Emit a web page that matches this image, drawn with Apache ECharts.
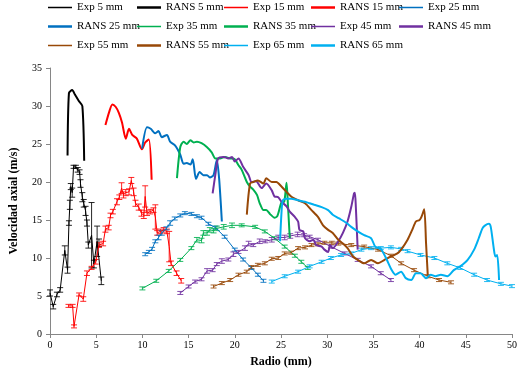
<!DOCTYPE html>
<html>
<head>
<meta charset="utf-8">
<script src="https://cdn.jsdelivr.net/npm/echarts@6/dist/echarts.min.js"></script>
<style>
  html, body { margin: 0; padding: 0; background: #fff; }
  #chart { width: 523px; height: 374px; }
</style>
</head>
<body>
<div id="chart"></div>
<script>
// measured points [radio mm, velocidad m/s, error bar half-height]
const exp5 = [
  [0.0, 5.4, 0.4], [0.35, 3.6, 0.3], [0.75, 5.2, 0.3], [1.1, 5.8, 0.3], [1.6, 11.0, 0.6],
  [1.9, 8.4, 0.4], [2.05, 14.6, 0.3], [2.15, 17.0, 0.6], [2.25, 19.4, 0.4], [2.4, 18.6, 0.6],
  [2.55, 22.0, 0.2], [2.8, 22.0, 0.2], [3.0, 21.6, 0.3], [3.2, 21.3, 0.3], [3.3, 19.8, 0.5],
  [3.5, 18.0, 0.6], [3.65, 17.2, 0.5], [3.85, 16.2, 0.6], [4.0, 14.6, 0.4], [4.15, 11.7, 0.4],
  [4.5, 13.0, 4.3], [4.75, 9.2, 0.5], [5.1, 12.2, 2.0], [5.3, 12.0, 0.5], [5.55, 7.0, 0.5]
];
const exp15 = [
  [2.0, 3.7, 0.2], [2.45, 3.7, 0.2], [2.6, 1.0, 0.2], [3.15, 5.2, 0.2], [3.6, 4.6, 0.3],
  [4.0, 8.0, 0.3], [4.5, 8.7, 0.2], [4.95, 9.5, 0.3], [5.3, 11.7, 0.3], [5.75, 11.9, 0.3],
  [6.0, 13.8, 0.4], [6.35, 14.0, 0.3], [6.55, 15.6, 0.3], [6.8, 16.1, 0.3], [7.25, 17.4, 0.4],
  [7.5, 18.0, 0.3], [7.75, 19.2, 0.7], [7.95, 18.3, 0.4], [8.2, 18.6, 0.4], [8.55, 18.7, 0.4],
  [8.8, 20.2, 0.4], [9.05, 18.7, 0.5], [9.25, 17.2, 0.4], [9.6, 16.7, 0.4], [9.9, 15.9, 0.4],
  [10.15, 15.6, 0.4], [10.3, 18.1, 1.4], [10.5, 15.9, 0.3], [10.85, 16.1, 0.3], [11.2, 16.3, 0.3],
  [11.4, 15.4, 1.6], [11.6, 13.3, 0.3], [11.95, 13.5, 0.3], [12.3, 13.7, 0.3], [12.65, 13.5, 0.3],
  [12.9, 11.5, 2.0], [13.1, 9.3, 0.3], [13.7, 8.0, 0.3], [14.2, 7.0, 0.3]
];
const exp25 = [
  [10.3, 10.5, 0.2], [10.7, 10.8, 0.2], [11.05, 11.2, 0.2], [11.4, 12.2, 0.2], [11.75, 12.7, 0.3],
  [12.1, 13.3, 0.3], [12.6, 13.9, 0.2], [13.0, 14.6, 0.3], [13.5, 15.2, 0.2], [14.1, 15.6, 0.2],
  [14.6, 15.9, 0.2], [15.3, 15.8, 0.2], [15.9, 15.5, 0.2], [16.4, 15.3, 0.2], [17.15, 14.5, 0.2],
  [17.9, 14.0, 0.2], [18.9, 12.8, 0.2], [20.0, 11.1, 0.2], [20.9, 9.8, 0.2], [21.8, 8.7, 0.2],
  [22.5, 7.8, 0.2], [23.1, 7.0, 0.2]
];
const exp35 = [
  [10.0, 6.0, 0.2], [11.5, 7.0, 0.2], [12.85, 8.3, 0.2], [14.1, 9.75, 0.2], [15.3, 11.3, 0.2],
  [15.9, 12.4, 0.3], [16.4, 12.3, 0.3], [16.6, 13.3, 0.3], [17.0, 13.3, 0.3], [17.3, 13.7, 0.3],
  [17.7, 13.6, 0.3], [18.05, 13.9, 0.3], [18.8, 14.1, 0.3], [19.7, 14.3, 0.3], [20.75, 14.3, 0.2],
  [22.2, 14.1, 0.2], [23.25, 13.5, 0.2], [24.3, 12.6, 0.2], [25.4, 11.5, 0.2], [26.5, 10.3, 0.2],
  [27.2, 9.5, 0.2], [27.9, 8.7, 0.2]
];
const exp45 = [
  [14.1, 5.4, 0.2], [15.0, 6.25, 0.2], [15.7, 6.9, 0.2], [16.4, 7.2, 0.2], [17.0, 8.3, 0.3],
  [17.6, 8.4, 0.2], [18.05, 9.2, 0.2], [18.6, 9.6, 0.3], [19.3, 9.8, 0.2], [19.85, 10.5, 0.3],
  [20.4, 10.8, 0.2], [21.1, 11.3, 0.3], [21.5, 11.9, 0.3], [22.0, 11.7, 0.2], [22.7, 12.2, 0.3],
  [23.3, 12.2, 0.2], [24.0, 12.4, 0.3], [24.7, 12.7, 0.3], [25.4, 12.7, 0.3], [26.0, 12.9, 0.3],
  [26.8, 13.1, 0.3], [27.5, 13.0, 0.2], [28.1, 12.8, 0.2], [29.0, 12.4, 0.2], [30.4, 11.5, 0.2],
  [31.9, 10.6, 0.2], [33.3, 9.75, 0.2], [34.75, 8.9, 0.2], [35.8, 8.0, 0.2], [36.9, 7.1, 0.2]
];
const exp55 = [
  [17.7, 6.25, 0.2], [18.6, 6.7, 0.2], [19.5, 7.1, 0.2], [20.4, 7.8, 0.2], [21.3, 8.2, 0.2],
  [21.8, 8.8, 0.2], [22.5, 9.1, 0.2], [23.25, 9.3, 0.2], [24.0, 9.9, 0.2], [24.7, 10.0, 0.2],
  [25.4, 10.6, 0.2], [26.1, 10.7, 0.2], [26.85, 11.3, 0.2], [27.6, 11.4, 0.2], [28.3, 11.7, 0.2],
  [29.0, 11.8, 0.2], [29.7, 12.0, 0.2], [30.5, 12.0, 0.2], [31.2, 11.9, 0.2], [32.6, 11.7, 0.2],
  [34.0, 11.5, 0.2], [35.5, 11.1, 0.2], [36.9, 10.3, 0.2], [38.0, 9.3, 0.2], [39.4, 8.4, 0.2],
  [40.9, 7.6, 0.2], [42.1, 7.1, 0.2], [43.4, 6.8, 0.2]
];
const exp65 = [
  [24.0, 6.9, 0.2], [25.4, 7.6, 0.2], [26.85, 8.2, 0.2], [28.1, 8.9, 0.2], [29.4, 9.5, 0.2],
  [30.4, 10.0, 0.2], [31.5, 10.4, 0.2], [32.6, 10.6, 0.2], [33.7, 11.1, 0.2], [34.75, 11.3, 0.2],
  [35.8, 11.3, 0.2], [36.9, 11.4, 0.2], [38.0, 11.2, 0.2], [38.7, 10.9, 0.2], [40.1, 10.4, 0.2],
  [41.6, 10.0, 0.2], [43.0, 9.3, 0.2], [44.4, 8.7, 0.2], [45.9, 7.8, 0.2], [47.3, 7.1, 0.2],
  [48.8, 6.6, 0.2], [50.0, 6.3, 0.2]
];

// simulated profiles [radio mm, velocidad m/s]
const rans5 = [[1.9, 23.5], [2.05, 31.7], [2.4, 32.1], [2.7, 31.5], [3.1, 30.7], [3.5, 30.0], [3.7, 22.8]];
const rans15 = [
  [6.0, 27.5], [6.4, 29.2], [6.75, 30.2], [7.1, 29.9], [7.45, 29.1], [7.8, 27.8], [8.2, 25.7],
  [8.55, 27.0], [8.9, 26.2], [9.4, 25.7], [9.95, 24.3], [10.3, 25.2], [10.7, 25.6], [11.0, 20.3]
];
const rans25 = [
  [9.97, 24.4], [10.5, 27.2], [10.9, 27.0], [11.4, 26.4], [11.75, 26.7], [12.1, 25.9], [12.66, 26.2],
  [13.0, 25.3], [13.55, 24.8], [14.1, 23.6], [14.45, 22.4], [14.8, 22.5], [15.2, 22.3], [15.45, 23.0],
  [15.8, 20.4], [16.2, 21.3], [16.6, 20.9], [17.0, 20.9], [17.3, 20.6], [17.7, 20.9], [18.05, 22.9],
  [18.3, 20.5], [18.6, 14.8]
];
const rans35 = [
  [13.74, 20.5], [14.1, 24.6], [14.45, 25.3], [14.8, 25.0], [15.2, 25.5], [15.55, 25.2], [15.9, 25.3],
  [16.4, 25.1], [16.97, 24.6], [17.5, 23.9], [17.9, 23.1], [18.4, 23.1], [18.95, 23.3], [19.5, 23.1],
  [20.0, 23.0], [20.4, 22.2], [20.75, 21.6], [21.3, 20.0], [21.65, 19.4], [22.0, 19.0], [22.4, 18.3],
  [22.7, 17.2], [23.1, 16.3], [23.4, 16.3], [23.8, 15.8], [24.3, 15.3], [24.6, 15.5], [25.05, 17.3],
  [25.35, 17.4], [25.6, 19.9], [25.75, 17.0], [25.95, 12.6]
];
const rans45 = [
  [17.6, 18.5], [17.9, 21.0], [18.2, 23.1], [18.8, 23.3], [19.3, 23.1], [19.7, 23.3], [20.0, 22.7],
  [20.4, 23.1], [20.9, 22.0], [21.5, 20.9], [21.8, 20.0], [22.3, 20.1], [22.9, 19.2], [23.4, 19.8],
  [24.0, 18.9], [24.3, 18.1], [24.7, 18.0], [25.05, 17.4], [25.6, 16.8], [25.95, 16.1], [26.5, 15.4],
  [26.85, 14.8], [27.0, 13.7], [27.4, 13.5], [27.6, 12.6], [28.1, 12.2], [28.5, 12.4], [28.8, 11.7],
  [29.4, 11.5], [29.7, 11.1], [30.1, 10.8], [30.3, 11.7], [30.6, 11.3], [31.2, 12.2], [31.7, 13.3],
  [32.2, 14.8], [32.6, 16.7], [32.9, 18.5], [33.0, 18.6], [33.1, 16.7], [33.3, 11.1]
];
const rans55 = [
  [21.3, 15.7], [21.65, 19.8], [22.0, 20.0], [22.5, 20.2], [23.1, 19.8], [23.4, 20.5], [24.0, 20.0],
  [24.5, 20.0], [25.05, 19.4], [25.6, 18.7], [26.1, 18.1], [26.85, 17.6], [27.6, 17.2], [28.3, 16.3],
  [29.0, 15.4], [29.55, 14.3], [30.1, 13.7], [30.6, 13.3], [31.2, 12.4], [31.7, 11.9], [32.2, 11.3],
  [32.8, 10.2], [33.3, 9.75], [34.0, 9.3], [34.75, 9.75], [35.5, 9.3], [36.2, 9.75], [36.9, 10.2],
  [37.6, 10.6], [38.0, 11.1], [38.7, 12.4], [39.2, 13.7], [39.6, 14.8], [40.0, 15.0], [40.2, 15.4],
  [40.5, 16.4], [40.7, 11.9], [40.9, 7.35]
];
const rans65 = [
  [24.9, 12.2], [25.05, 15.9], [25.2, 17.6], [25.6, 17.8], [26.1, 17.8], [26.85, 17.6], [27.6, 17.4],
  [28.1, 17.2], [28.6, 17.0], [29.4, 16.7], [30.1, 16.3], [30.6, 15.7], [31.3, 15.2], [32.1, 14.6],
  [32.6, 14.1], [33.3, 13.5], [34.0, 13.0], [34.75, 12.6], [35.2, 11.5], [35.8, 11.2], [36.4, 9.9],
  [36.9, 8.6], [37.4, 7.8], [38.0, 8.2], [38.5, 7.35], [39.1, 7.1], [39.6, 8.0], [40.1, 8.0],
  [40.7, 7.35], [41.2, 7.8], [41.7, 7.6], [42.3, 7.8], [43.0, 7.6], [43.7, 8.4], [44.4, 8.9],
  [45.2, 9.75], [45.9, 11.1], [46.4, 12.6], [46.8, 13.9], [47.1, 14.3], [47.5, 14.5], [47.7, 14.1],
  [48.0, 11.5], [48.2, 10.2], [48.4, 10.4], [48.6, 7.1]
];

const stations = ['5 mm', '15 mm', '25 mm', '35 mm', '45 mm', '55 mm', '65 mm'];
const expData = [exp5, exp15, exp25, exp35, exp45, exp55, exp65];
const ransData = [rans5, rans15, rans25, rans35, rans45, rans55, rans65];
const colors = ['#000000', '#ff0000', '#0070c0', '#00b050', '#7030a0', '#984807', '#00b0f0'];

const font = 'Liberation Serif';
const thinIcon = 'path://M0,0H24V1.5H0Z';
const thickIcon = 'path://M0,0H24V2.5H0Z';
// legend grid like the spreadsheet: 5 columns, 3 rows
const legendCols = [48, 137, 224, 311, 399];
const legendRows = [2, 21, 40];

function renderErr(params, api) {
  const x = api.value(0);
  const lo = api.coord([x, api.value(1)]);
  const hi = api.coord([x, api.value(2)]);
  const w = 3;
  const style = { stroke: api.visual('color'), lineWidth: 1, opacity: 0.85 };
  return {
    type: 'group',
    children: [
      { type: 'line', shape: { x1: lo[0], y1: lo[1], x2: hi[0], y2: hi[1] }, style },
      { type: 'line', shape: { x1: lo[0] - w, y1: lo[1], x2: lo[0] + w, y2: lo[1] }, style },
      { type: 'line', shape: { x1: hi[0] - w, y1: hi[1], x2: hi[0] + w, y2: hi[1] }, style }
    ]
  };
}

const series = [];
const legendItems = [];
stations.forEach((st, i) => {
  const c = colors[i];
  legendItems.push(
    { name: 'Exp ' + st, icon: thinIcon, itemStyle: { color: c } },
    { name: 'RANS ' + st, icon: thickIcon, itemStyle: { color: c } }
  );
  series.push({
    name: 'Exp ' + st,
    type: 'line',
    data: expData[i].map(p => [p[0], p[1]]),
    symbol: 'none',
    lineStyle: { color: c, width: 1 },
    itemStyle: { color: c },
    z: 2
  });
  series.push({
    name: 'err' + i,
    type: 'custom',
    data: expData[i].map(p => [p[0], p[1] - p[2], p[1] + p[2]]),
    encode: { x: 0, y: [1, 2] },
    renderItem: renderErr,
    itemStyle: { color: c },
    z: 2
  });
  series.push({
    name: 'RANS ' + st,
    type: 'line',
    data: ransData[i],
    symbol: 'none',
    smooth: 0.25,
    lineStyle: { color: c, width: 2 },
    itemStyle: { color: c },
    z: 3
  });
});

// one legend per entry so the columns line up exactly
const legends = legendItems.map((item, k) => ({
  data: [item],
  left: legendCols[k % 5],
  top: legendRows[Math.floor(k / 5)],
  padding: 0,
  itemWidth: 24,
  itemHeight: 14,
  textStyle: { fontFamily: font, fontSize: 11, color: '#000' }
}));

const chart = echarts.init(document.getElementById('chart'), null, { renderer: 'canvas' });
chart.setOption({
  animation: false,
  backgroundColor: '#ffffff',
  legend: legends,
  grid: { left: 47.5, right: 11, top: 68, bottom: 40 },
  xAxis: {
    type: 'value',
    min: 0, max: 50, interval: 5,
    name: 'Radio (mm)',
    nameLocation: 'middle',
    nameGap: 22,
    nameTextStyle: { fontFamily: font, fontSize: 12, fontWeight: 'bold', color: '#000' },
    axisLine: { lineStyle: { color: '#868686' } },
    axisTick: { show: true, length: 4, lineStyle: { color: '#868686' } },
    axisLabel: { fontFamily: font, fontSize: 10, color: '#000', margin: 6 },
    splitLine: { show: false }
  },
  yAxis: {
    type: 'value',
    min: 0, max: 35, interval: 5,
    name: 'Velocidad axial (m/s)',
    nameLocation: 'middle',
    nameGap: 30,
    nameTextStyle: { fontFamily: font, fontSize: 12, fontWeight: 'bold', color: '#000' },
    axisLine: { show: true, lineStyle: { color: '#868686' } },
    axisTick: { show: true, length: 4, lineStyle: { color: '#868686' } },
    axisLabel: { fontFamily: font, fontSize: 10, color: '#000', margin: 8 },
    splitLine: { show: false }
  },
  series
});
</script>
</body>
</html>
